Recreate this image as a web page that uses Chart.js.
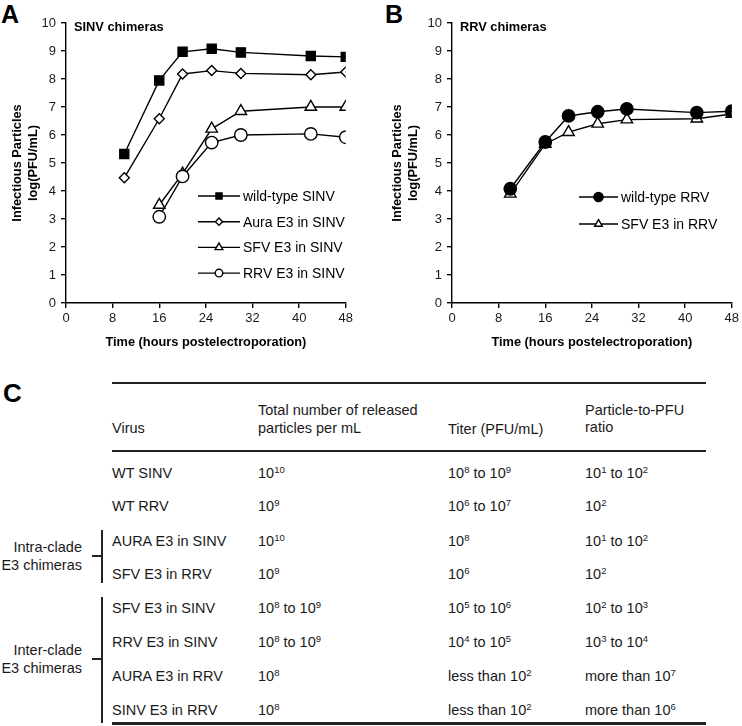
<!DOCTYPE html>
<html>
<head>
<meta charset="utf-8">
<title>E3 chimeras</title>
<script src="https://cdn.jsdelivr.net/npm/chart.js"></script>
<style>
  body { margin: 0; width: 742px; height: 726px; overflow: hidden; position: relative; background: #fff;
         font-family: "Liberation Sans", Arial, sans-serif; color: #1a1a1a; }
  .letter { position: absolute; font-weight: bold; font-size: 25px; line-height: 25px; color: #000; }
  canvas { position: absolute; top: 0; }
  .t { position: absolute; font-size: 14.5px; line-height: 17px; white-space: nowrap; }
  .t sup { font-size: 9.5px; vertical-align: 5px; line-height: 0; }
  .rule { position: absolute; left: 112px; width: 594px; background: #222; }
  .vline { position: absolute; left: 101px; width: 2px; background: #222; }
  .hline { position: absolute; left: 92px; width: 10px; height: 2px; background: #222; }
  .grp { position: absolute; right: 660px; text-align: right; font-size: 14.5px; line-height: 18px; }
</style>
</head>
<body>
<div class="letter" style="left:1px;top:2px">A</div>
<div class="letter" style="left:385px;top:2px">B</div>
<div class="letter" style="left:3px;top:380px;font-size:26px;line-height:26px">C</div>

<canvas id="chartA" width="356" height="360" style="left:0"></canvas>
<canvas id="chartB" width="356" height="360" style="left:386px"></canvas>

<div id="table"></div>

<script>
// panel A - SINV chimeras
const hoursEarly = [10, 16, 20, 25, 30, 42, 48];
const hoursLate = [16, 20, 25, 30, 42, 48];
const wtSINV = [5.32, 7.95, 8.97, 9.08, 8.95, 8.82, 8.79];
const auraSINV = [4.47, 6.58, 8.18, 8.3, 8.2, 8.15, 8.25];
const sfvSINV = [3.5, 4.62, 6.22, 6.85, 7.0, 7.0];
const rrvSINV = [3.08, 4.52, 5.73, 6.0, 6.04, 5.92];

// panel B - RRV chimeras
const hoursB = [10, 16, 20, 25, 30, 42, 48];
const wtRRV = [4.08, 5.75, 6.68, 6.83, 6.93, 6.8, 6.85];
const sfvRRV = [3.9, 5.68, 6.1, 6.4, 6.55, 6.58, 6.75];

const xTicks = [0, 8, 16, 24, 32, 40, 48];

// panel C - table
const virusNames = ['WT SINV', 'WT RRV', 'AURA E3 in SINV', 'SFV E3 in RRV', 'SFV E3 in SINV', 'RRV E3 in SINV', 'AURA E3 in RRV', 'SINV E3 in RRV'];
const releasedParticles = ['10<sup>10</sup>', '10<sup>9</sup>', '10<sup>10</sup>', '10<sup>9</sup>', '10<sup>8</sup> to 10<sup>9</sup>', '10<sup>8</sup> to 10<sup>9</sup>', '10<sup>8</sup>', '10<sup>8</sup>'];
const titers = ['10<sup>8</sup> to 10<sup>9</sup>', '10<sup>6</sup> to 10<sup>7</sup>', '10<sup>8</sup>', '10<sup>6</sup>', '10<sup>5</sup> to 10<sup>6</sup>', '10<sup>4</sup> to 10<sup>5</sup>', 'less than 10<sup>2</sup>', 'less than 10<sup>2</sup>'];
const ratios = ['10<sup>1</sup> to 10<sup>2</sup>', '10<sup>2</sup>', '10<sup>1</sup> to 10<sup>2</sup>', '10<sup>2</sup>', '10<sup>2</sup> to 10<sup>3</sup>', '10<sup>3</sup> to 10<sup>4</sup>', 'more than 10<sup>7</sup>', 'more than 10<sup>6</sup>'];

const FONT = '"Liberation Sans", Arial, sans-serif';

function pts(xs, ys) {
  return ys.map((y, i) => ({ x: xs[i], y: y }));
}

function line(label, xs, ys, style, radius, fill, legendRadius, order) {
  return {
    label: label,
    data: pts(xs, ys),
    borderColor: '#000',
    borderWidth: 1.4,
    pointStyle: style,
    pointRadius: radius,
    pointBackgroundColor: fill,
    pointBorderColor: '#000',
    pointBorderWidth: 1.4,
    legendRadius: legendRadius,
    order: order
  };
}

// subtitle + line/marker legend drawn inside the plot area
const overlay = {
  id: 'overlay',
  afterDraw(chart, args, opts) {
    const { ctx, chartArea: a } = chart;
    ctx.save();
    ctx.fillStyle = '#000';
    ctx.textBaseline = 'middle';
    ctx.font = 'bold 12.8px ' + FONT;
    ctx.fillText(opts.subtitle, a.left + 8, a.top + 4);
    ctx.font = '14px ' + FONT;
    chart.data.datasets.forEach((ds, i) => {
      const y = a.top + opts.top + i * opts.gap;
      const x0 = a.left + opts.left;
      ctx.strokeStyle = '#000';
      ctx.lineWidth = 1.4;
      ctx.beginPath();
      ctx.moveTo(x0, y);
      ctx.lineTo(x0 + opts.len, y);
      ctx.stroke();
      ctx.fillStyle = ds.pointBackgroundColor;
      Chart.helpers.drawPoint(ctx, { pointStyle: ds.pointStyle, radius: ds.legendRadius, borderWidth: 1.4 }, x0 + opts.len / 2, y);
      ctx.fillStyle = '#000';
      ctx.fillText(ds.label, x0 + opts.len + 3, y + 1);
    });
    ctx.restore();
  }
};

function makeChart(id, datasets, overlayOpts, titlePad) {
  return new Chart(document.getElementById(id), {
    type: 'line',
    data: { datasets: datasets },
    plugins: [overlay],
    options: {
      responsive: false,
      animation: false,
      layout: { padding: { left: 0, right: 7, top: 23, bottom: 0 } },
      plugins: {
        legend: { display: false },
        tooltip: { enabled: false },
        overlay: overlayOpts
      },
      scales: {
        x: {
          type: 'linear',
          min: 0, max: 48,
          afterBuildTicks: s => { s.ticks = xTicks.map(v => ({ value: v })); },
          afterFit: s => { s.height = 57; },
          ticks: { color: '#1a1a1a', font: { size: 13, family: FONT }, padding: 3, maxRotation: 0 },
          grid: { drawOnChartArea: false, drawTicks: true, tickLength: 5, color: '#000', lineWidth: 1.4 },
          border: { color: '#000', width: 1.4 },
          title: { display: true, text: 'Time (hours postelectroporation)', color: '#000',
                   font: { size: 12.8, weight: 'bold', family: FONT }, padding: { top: 0, bottom: 10 } }
        },
        y: {
          min: 0, max: 10,
          ticks: { stepSize: 1, color: '#1a1a1a', font: { size: 13, family: FONT }, padding: 5 },
          afterFit: s => { s.width = 66; },
          grid: { drawOnChartArea: false, drawTicks: true, tickLength: 5, color: '#000', lineWidth: 1.4 },
          border: { color: '#000', width: 1.4 },
          title: { display: true, text: ['Infectious Particles', 'log(PFU/mL)'], color: '#000',
                   font: { size: 12.8, weight: 'bold', family: FONT, lineHeight: 1.2 },
                   padding: { top: titlePad, bottom: 0 } }
        }
      }
    }
  });
}

makeChart('chartA', [
  line('wild-type SINV', hoursEarly, wtSINV, 'rect', 6.4, '#000', 4.3, 1),
  line('Aura E3 in SINV', hoursEarly, auraSINV, 'rectRot', 5, '#fff', 3.6, 2),
  line('SFV E3 in SINV', hoursLate, sfvSINV, 'triangle', 6.6, '#fff', 4.4, 3),
  line('RRV E3 in SINV', hoursLate, rrvSINV, 'circle', 6.2, '#fff', 3.8, 0)
], { subtitle: 'SINV chimeras', left: 132, top: 173, gap: 25.7, len: 42 }, 10);

makeChart('chartB', [
  line('wild-type RRV', hoursB, wtRRV, 'circle', 6.2, '#000', 4.6, 0),
  line('SFV E3 in RRV', hoursB, sfvRRV, 'triangle', 6.6, '#fff', 4.4, 1)
], { subtitle: 'RRV chimeras', left: 127, top: 174, gap: 27, len: 39 }, 4);

// table C
const table = document.getElementById('table');
function put(html, x, cy) {
  const d = document.createElement('div');
  d.className = 't';
  d.style.left = x + 'px';
  d.style.top = (cy - 8.5) + 'px';
  d.innerHTML = html;
  table.appendChild(d);
}
function rule(y, h) {
  const d = document.createElement('div');
  d.className = 'rule';
  d.style.top = y + 'px';
  d.style.height = h + 'px';
  table.appendChild(d);
}
const colX = [112, 258, 448, 585];
const rowY = [473, 506, 541, 574, 608, 642, 676, 710];

rule(382, 2);
rule(450, 2);
rule(722, 3);
put('Virus', colX[0], 428);
put('Total number of released', colX[1], 410);
put('particles per mL', colX[1], 428);
put('Titer (PFU/mL)', colX[2], 429);
put('Particle-to-PFU', colX[3], 410);
put('ratio', colX[3], 427);

virusNames.forEach((name, i) => {
  put(name, colX[0], rowY[i]);
  put(releasedParticles[i], colX[1], rowY[i]);
  put(titers[i], colX[2], rowY[i]);
  put(ratios[i], colX[3], rowY[i]);
});

// clade brackets
function bracket(y0, y1, mid, label1, label2) {
  const v = document.createElement('div');
  v.className = 'vline';
  v.style.top = y0 + 'px';
  v.style.height = (y1 - y0) + 'px';
  table.appendChild(v);
  const h = document.createElement('div');
  h.className = 'hline';
  h.style.top = (mid - 1) + 'px';
  table.appendChild(h);
  const g = document.createElement('div');
  g.className = 'grp';
  g.style.top = (mid - 18) + 'px';
  g.innerHTML = label1 + '<br>' + label2;
  table.appendChild(g);
}
bracket(530, 583, 556, 'Intra-clade', 'E3 chimeras');
bracket(597, 723, 659, 'Inter-clade', 'E3 chimeras');
</script>
</body>
</html>
